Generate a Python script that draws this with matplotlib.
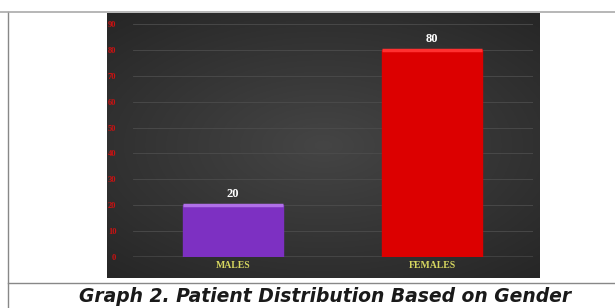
import matplotlib.pyplot as plt
import numpy as np
from matplotlib.lines import Line2D

# Dados do gráfico
categories = ["MALES", "FEMALES"]
values = [20, 80]
bar_colors = ["#7d30c2", "#dc0000"]
yticks = list(range(0, 100, 10))
caption = "Graph 2. Patient Distribution Based on Gender"

W, H = 615, 308
fig = plt.figure(figsize=(W / 100, H / 100), dpi=100)
fig.patch.set_facecolor("white")

# Painel escuro com gradiente (fundo do gráfico)
bg = fig.add_axes([107 / W, 1 - 278 / H, 433 / W, 265 / H])
gx = np.linspace(-1, 1, 300)
gy = np.linspace(-1, 1, 200)
X, Y = np.meshgrid(gx, gy)
grad = 0.27 - 0.10 * np.clip(np.sqrt((X * 0.8) ** 2 + (Y * 0.9) ** 2), 0, 1.3)
bg.imshow(np.dstack([grad, grad, grad]), aspect="auto", extent=[0, 1, 0, 1])
bg.set_axis_off()

# Eixo principal
ax = fig.add_axes([133 / W, 1 - 257 / H, 400 / W, 233 / H])
ax.set_facecolor("none")
x = np.arange(len(categories))
bars = ax.bar(x, values, width=0.5, color=bar_colors, zorder=3)
for b, c in zip(bars, bar_colors):
    b.set_edgecolor(c)

# Faixa clara no topo das barras (efeito 3D)
for xi, v, c in zip(x, values, ["#b070e8", "#ff3030"]):
    ax.plot([xi - 0.25, xi + 0.25], [v, v], color=c, lw=2.5, zorder=4,
            solid_capstyle="butt")

for xi, v in zip(x, values):
    ax.text(xi, v + 2.0, str(v), ha="center", va="bottom", color="white",
            fontsize=9, fontweight="bold", family="Liberation Serif")

ax.set_xlim(-0.5025, 1.5075)
ax.set_ylim(0, 90)
ax.set_yticks(yticks)
ax.set_yticklabels([str(t) for t in yticks], color="#cc1111", fontsize=6,
                   family="Liberation Serif", fontweight="bold")
ax.set_xticks(x)
ax.set_xticklabels(categories, color="#d8d860", fontsize=7,
                   family="Liberation Serif", fontweight="bold")
ax.tick_params(axis="both", length=0, pad=3)
ax.tick_params(axis="y", pad=12)
ax.grid(axis="y", color="#4c4c4c", lw=0.6, zorder=0)
ax.axhline(0, color="#9a9a9a", lw=1.0, zorder=2)
for s in ax.spines.values():
    s.set_visible(False)

# Linhas da tabela
fig.add_artist(Line2D([8 / W, 8 / W], [0, 1 - 12 / H], color="#888888", lw=1.0))
fig.add_artist(Line2D([0, 1], [1 - 12 / H, 1 - 12 / H], color="#aaaaaa", lw=1.2))
fig.add_artist(Line2D([8 / W, 1], [1 - 283 / H, 1 - 283 / H], color="#888888", lw=1.0))

fig.text(325 / W, 1 - 296 / H, caption, ha="center", va="center",
         fontsize=13.5, fontweight="bold", style="italic", color="#1a1a1a",
         family="DejaVu Sans")

fig.savefig("out.png", dpi=100)
